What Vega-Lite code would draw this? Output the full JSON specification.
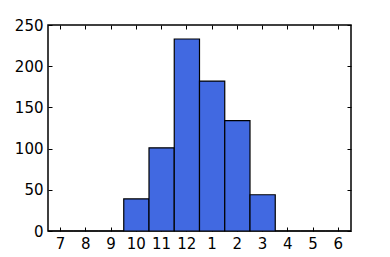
{
  "$schema": "https://vega.github.io/schema/vega-lite/v6.json",
  "width": 303,
  "height": 206,
  "autosize": "none",
  "padding": {"left": 48, "top": 25, "right": 39, "bottom": 26},
  "background": "white",
  "data": {"values": [
    {"hour": "7", "count": 0},
    {"hour": "8", "count": 0},
    {"hour": "9", "count": 0},
    {"hour": "10", "count": 39},
    {"hour": "11", "count": 101},
    {"hour": "12", "count": 233},
    {"hour": "1", "count": 182},
    {"hour": "2", "count": 134},
    {"hour": "3", "count": 44},
    {"hour": "4", "count": 0},
    {"hour": "5", "count": 0},
    {"hour": "6", "count": 0}
  ]},
  "config": {
    "view": {"stroke": "black", "strokeWidth": 1.5},
    "axis": {
      "grid": false,
      "domain": false,
      "title": null,
      "labelFont": "DejaVu Sans",
      "labelFontSize": 15,
      "labelColor": "black",
      "tickColor": "black",
      "tickSize": -4,
      "tickWidth": 1,
      "labelPadding": 9
    }
  },
  "layer": [
    {
      "mark": {"type": "bar", "fill": "#4169E1", "stroke": "black", "strokeWidth": 1.2},
      "encoding": {
        "x": {"field": "hour", "type": "ordinal", "sort": null,
              "scale": {"paddingInner": 0, "paddingOuter": 0},
              "axis": {"orient": "bottom", "labelAngle": 0}},
        "y": {"field": "count", "type": "quantitative",
              "scale": {"domain": [0, 250], "nice": false},
              "axis": {"orient": "left", "values": [0, 50, 100, 150, 200, 250]}}
      }
    },
    {
      "mark": {"type": "point", "opacity": 0},
      "encoding": {
        "x": {"field": "hour", "type": "ordinal", "sort": null,
              "axis": {"orient": "top", "labels": false}},
        "y": {"field": "count", "type": "quantitative",
              "axis": {"orient": "right", "labels": false, "values": [0, 50, 100, 150, 200, 250]}}
      }
    }
  ],
  "resolve": {"axis": {"x": "independent", "y": "independent"}}
}
